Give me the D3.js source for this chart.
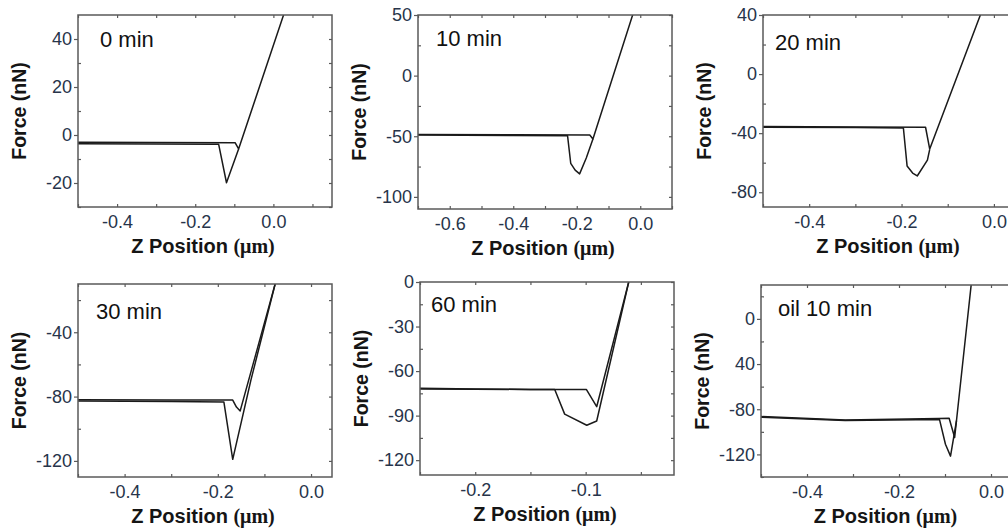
<!DOCTYPE html>
<html>
<head>
<meta charset="utf-8">
<script src="https://cdn.jsdelivr.net/npm/d3@7"></script>
<style>
  html, body { margin: 0; padding: 0; background: #ffffff; }
  svg { display: block; }
</style>
</head>
<body>
<svg id="chart" width="1008" height="528"></svg>
<script>
// ---------------- DATA ----------------
const panelLabels = ["0 min", "10 min", "20 min", "30 min", "60 min", "oil 10 min"];
const xTitle = "Z Position ";
const xTitleUnit = "(\u03bcm)";
const yTitle = "Force (nN)";

// axis domains
const xDomains = [[-0.5, 0.15], [-0.7, 0.1], [-0.5, 0.05], [-0.5, 0.045], [-0.25, -0.02], [-0.5, 0.05]];
const yDomains = [[-30, 50], [-110, 50], [-90, 40], [-130, -10], [-130, 0], [-140, 30]];

// tick values and labels
const xTicks = [[-0.4, -0.2, 0.0], [-0.6, -0.4, -0.2, 0.0], [-0.4, -0.2, 0.0], [-0.4, -0.2, 0.0], [-0.2, -0.1], [-0.4, -0.2, 0.0]];
const xTickLabels = [["-0.4", "-0.2", "0.0"], ["-0.6", "-0.4", "-0.2", "0.0"], ["-0.4", "-0.2", "0.0"], ["-0.4", "-0.2", "0.0"], ["-0.2", "-0.1"], ["-0.4", "-0.2", "0.0"]];
const xMinorTicks = [[-0.5, -0.3, -0.1, 0.1], [-0.7, -0.5, -0.3, -0.1, 0.1], [-0.5, -0.3, -0.1], [-0.5, -0.3, -0.1], [-0.25, -0.15, -0.05], [-0.5, -0.3, -0.1]];
const yTicks = [[-20, 0, 20, 40], [-100, -50, 0, 50], [-80, -40, 0, 40], [-120, -80, -40], [-120, -90, -60, -30, 0], [-120, -80, -40, 0]];
const yTickLabels = [["-20", "0", "20", "40"], ["-100", "-50", "0", "50"], ["-80", "-40", "0", "40"], ["-120", "-80", "-40"], ["-120", "-90", "-60", "-30", "0"], ["-120", "-80", "40", "0"]];
const yMinorTicks = [[-30, -10, 10, 30], [-75, -25, 25], [-60, -20, 20], [-100, -60, -20], [-105, -75, -45, -15], [-140, -100, -60, -20, 20]];

// approach / retract curves (Z in um, Force in nN)
const approachZ0 = [-0.5, -0.3, -0.098, -0.089, 0.026];
const approachF0 = [-3.0, -3.1, -3.2, -5.8, 50];
const retractZ0 = [-0.5, -0.3, -0.14, -0.12, -0.089];
const retractF0 = [-3.6, -3.7, -3.9, -19.9, -5.8];

const approachZ1 = [-0.7, -0.4, -0.159, -0.149, -0.023];
const approachF1 = [-48.5, -48.8, -48.9, -52.2, 50.8];
const retractZ1 = [-0.7, -0.4, -0.229, -0.219, -0.205, -0.191, -0.17, -0.149];
const retractF1 = [-49, -49.3, -49.5, -72.3, -78, -81, -68, -52.2];

const approachZ2 = [-0.5, -0.3, -0.148, -0.139, -0.029];
const approachF2 = [-35.5, -35.8, -36, -50.8, 40.3];
const retractZ2 = [-0.5, -0.3, -0.196, -0.188, -0.176, -0.166, -0.144, -0.139];
const retractF2 = [-36, -36.2, -36.5, -62.2, -67, -69, -58.3, -51];

const approachZ3 = [-0.5, -0.3, -0.168, -0.16, -0.152, -0.077];
const approachF3 = [-82, -82.2, -82.2, -86.5, -88.9, -10];
const retractZ3 = [-0.5, -0.3, -0.187, -0.168, -0.129, -0.077];
const retractF3 = [-82.8, -83, -83.3, -119, -69.8, -10];

const approachZ4 = [-0.25, -0.2, -0.15, -0.0994, -0.09, -0.061];
const approachF4 = [-72, -72.2, -72.4, -72.4, -84, 0];
const retractZ4 = [-0.25, -0.2, -0.15, -0.128, -0.119, -0.099, -0.09, -0.061];
const retractF4 = [-71.5, -72, -72.4, -72.4, -89, -96.5, -93.6, 0];

const approachZ5 = [-0.5, -0.317, -0.114, -0.091, -0.079, -0.043];
const approachF5 = [-86.5, -89.5, -88.3, -88, -105, 30.5];
const retractZ5 = [-0.5, -0.317, -0.112, -0.099, -0.088, -0.075];
const retractF5 = [-87, -90, -89, -111, -121.5, -90];

const curves = [
  [[approachZ0, approachF0], [retractZ0, retractF0]],
  [[approachZ1, approachF1], [retractZ1, retractF1]],
  [[approachZ2, approachF2], [retractZ2, retractF2]],
  [[approachZ3, approachF3], [retractZ3, retractF3]],
  [[approachZ4, approachF4], [retractZ4, retractF4]],
  [[approachZ5, approachF5], [retractZ5, retractF5]]
];

// ---------------- LAYOUT ----------------
const rects = [
  {x0: 78,  x1: 332,  y0: 15,  y1: 207},
  {x0: 418, x1: 672,  y0: 15,  y1: 209},
  {x0: 763, x1: 1017, y0: 15,  y1: 207},
  {x0: 78,  x1: 332,  y0: 284, y1: 477},
  {x0: 420, x1: 674,  y0: 282, y1: 475},
  {x0: 761, x1: 1014, y0: 285, y1: 477}
];
const labelPos = [[100, 47], [436, 46], [775, 50], [96, 319], [431, 312], [778, 316]];

const svg = d3.select("#chart");
svg.append("rect").attr("width", 1008).attr("height", 528).attr("fill", "#fff");

const tickColor = "#27344a";
const frameColor = "#5a5a5a";

rects.forEach((r, i) => {
  const x = d3.scaleLinear().domain(xDomains[i]).range([r.x0, r.x1]);
  const y = d3.scaleLinear().domain(yDomains[i]).range([r.y1, r.y0]);
  const g = svg.append("g");

  const clipId = "clip" + i;
  svg.append("defs").append("clipPath").attr("id", clipId)
    .append("rect").attr("x", r.x0).attr("y", r.y0)
    .attr("width", r.x1 - r.x0).attr("height", r.y1 - r.y0);

  // curves
  const line = d3.line().x(d => x(d[0])).y(d => y(d[1]));
  curves[i].forEach(([zs, fs]) => {
    const pts = zs.map((z, k) => [z, fs[k]]);
    g.append("path").datum(pts)
      .attr("d", line)
      .attr("fill", "none")
      .attr("stroke", "#1a1a1a")
      .attr("stroke-width", 1.5)
      .attr("stroke-linejoin", "round")
      .attr("clip-path", `url(#${clipId})`);
  });

  const fmtX = d => { const k = xTicks[i].indexOf(d); return k >= 0 ? xTickLabels[i][k] : ""; };
  const fmtY = d => { const k = yTicks[i].indexOf(d); return k >= 0 ? yTickLabels[i][k] : ""; };

  const xb = g.append("g").attr("transform", `translate(0,${r.y1})`)
    .call(d3.axisBottom(x).tickValues(xTicks[i].concat(xMinorTicks[i])).tickSize(-3).tickPadding(8).tickFormat(fmtX));
  const xt = g.append("g").attr("transform", `translate(0,${r.y0})`)
    .call(d3.axisTop(x).tickValues(xTicks[i].concat(xMinorTicks[i])).tickSize(-3).tickFormat(""));
  const yl = g.append("g").attr("transform", `translate(${r.x0},0)`)
    .call(d3.axisLeft(y).tickValues(yTicks[i]).tickSize(4).tickPadding(2).tickFormat(fmtY));
  const ylm = g.append("g").attr("transform", `translate(${r.x0},0)`)
    .call(d3.axisLeft(y).tickValues(yMinorTicks[i]).tickSize(-3).tickFormat(""));
  const yr = g.append("g").attr("transform", `translate(${r.x1},0)`)
    .call(d3.axisRight(y).tickValues(yTicks[i].concat(yMinorTicks[i])).tickSize(-3).tickFormat(""));

  [xb, xt, yl, ylm, yr].forEach(a => {
    a.select(".domain").remove();
    a.selectAll(".tick line").attr("stroke", frameColor).attr("stroke-width", 1.2);
    a.selectAll(".tick text")
      .attr("fill", tickColor)
      .style("font-family", "'Liberation Sans', Arial, sans-serif")
      .style("font-size", "18px");
  });

  g.append("rect")
    .attr("x", r.x0).attr("y", r.y0)
    .attr("width", r.x1 - r.x0).attr("height", r.y1 - r.y0)
    .attr("fill", "none").attr("stroke", frameColor).attr("stroke-width", 1.5);

  g.append("text")
    .attr("x", labelPos[i][0]).attr("y", labelPos[i][1])
    .attr("fill", "#111")
    .style("font-family", "'Liberation Sans', Arial, sans-serif")
    .style("font-size", "22px")
    .text(panelLabels[i]);

  const xt2 = g.append("text")
    .attr("x", (r.x0 + r.x1) / 2 - 2).attr("y", r.y1 + 46)
    .attr("text-anchor", "middle")
    .attr("fill", "#151515")
    .style("font-family", "'Liberation Sans', Arial, sans-serif")
    .style("font-size", "20px")
    .style("font-weight", "bold");
  xt2.append("tspan").text(xTitle);
  xt2.append("tspan").style("font-family", "'Liberation Serif', 'Times New Roman', serif").style("font-size", "20px").text(xTitleUnit);

  const cy = (r.y0 + r.y1) / 2;
  const cx = r.x0 - 59;
  g.append("text")
    .attr("transform", `translate(${cx},${cy}) rotate(-90)`)
    .attr("text-anchor", "middle")
    .attr("dy", "0.35em")
    .attr("fill", "#151515")
    .style("font-family", "'Liberation Sans', Arial, sans-serif")
    .style("font-size", "19.5px")
    .style("font-weight", "bold")
    .text(yTitle);
});
</script>
</body>
</html>
